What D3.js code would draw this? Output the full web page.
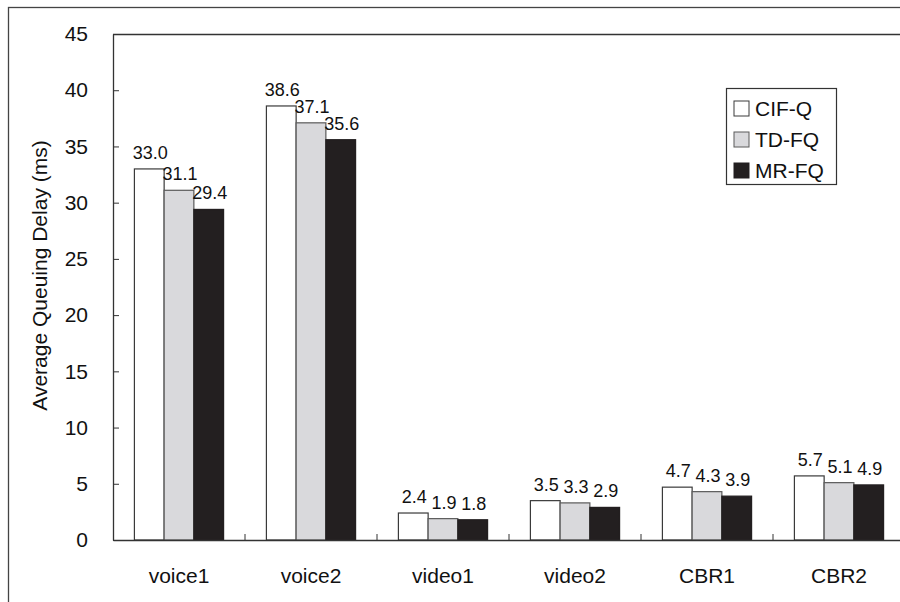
<!DOCTYPE html>
<html>
<head>
<meta charset="utf-8">
<script src="https://cdn.jsdelivr.net/npm/d3@7"></script>
<style>
  html, body { margin: 0; padding: 0; background: #fff; }
  svg { display: block; font-family: Arial, "Liberation Sans", sans-serif; }
</style>
</head>
<body>
<svg id="chart" width="900" height="602"></svg>
<script>
const categories = ["voice1", "voice2", "video1", "video2", "CBR1", "CBR2"];
const seriesNames = ["CIF-Q", "TD-FQ", "MR-FQ"];
const cifq = [33.0, 38.6, 2.4, 3.5, 4.7, 5.7];
const tdfq = [31.1, 37.1, 1.9, 3.3, 4.3, 5.1];
const mrfq = [29.4, 35.6, 1.8, 2.9, 3.9, 4.9];
const yTicks = [0, 5, 10, 15, 20, 25, 30, 35, 40, 45];
const yTitle = "Average Queuing Delay (ms)";

const seriesValues = [cifq, tdfq, mrfq];
const fills = ["#ffffff", "#d9d9dc", "#231f20"];
const strokes = ["#3a3a3a", "#5a5a5a", "#231f20"];

const svg = d3.select("#chart");
const pLeft = 113, pRight = 905, pTop = 34, pBottom = 540;

// outer frame (extends beyond the visible window on right and bottom)
svg.append("rect").attr("x", 8.5).attr("y", 7.5).attr("width", 910).attr("height", 610)
  .attr("fill", "none").attr("stroke", "#444").attr("stroke-width", 1.3);

const x0 = d3.scaleBand().domain(categories).range([pLeft, pRight]).paddingInner(0).paddingOuter(0);
const x1 = d3.scaleBand().domain(seriesNames).range([0, x0.bandwidth()]).paddingInner(0).paddingOuter(0.72);
const y = d3.scaleLinear().domain([0, 45]).range([pBottom, pTop]);

// plot area top border
svg.append("line").attr("x1", pLeft).attr("x2", 900).attr("y1", pTop + 0.5).attr("y2", pTop + 0.5)
  .attr("stroke", "#333").attr("stroke-width", 1.3);

// bars
const rows = categories.map((c, i) => ({ c, vals: seriesNames.map((s, j) => ({ s, j, v: seriesValues[j][i] })) }));
const g = svg.append("g");
const grp = g.selectAll("g.cat").data(rows).join("g").attr("transform", d => `translate(${x0(d.c)},0)`);
grp.selectAll("rect").data(d => d.vals).join("rect")
  .attr("x", d => x1(d.s))
  .attr("y", d => y(d.v))
  .attr("width", x1.bandwidth())
  .attr("height", d => y(0) - y(d.v))
  .attr("fill", d => fills[d.j])
  .attr("stroke", d => strokes[d.j])
  .attr("stroke-width", 1.2);

grp.selectAll("text").data(d => d.vals).join("text")
  .attr("x", d => x1(d.s) + x1.bandwidth() / 2 + 1)
  .attr("y", d => y(d.v) - 10)
  .attr("text-anchor", "middle")
  .attr("font-size", 18)
  .attr("fill", "#111")
  .text(d => d.v.toFixed(1));

// y axis
const yAxis = d3.axisLeft(y).tickValues(yTicks).tickSizeInner(-6).tickSizeOuter(0).tickPadding(25).tickFormat(d3.format("d"));
const ya = svg.append("g").attr("transform", `translate(${pLeft},0)`).call(yAxis);
ya.select(".domain").attr("stroke", "#333").attr("stroke-width", 1.3);
ya.selectAll(".tick line").attr("stroke", "#333");
ya.selectAll(".tick text").attr("font-size", 21).attr("fill", "#111").attr("font-family", "Arial, 'Liberation Sans', sans-serif");

// x axis
const xAxis = d3.axisBottom(x0).tickSize(0).tickPadding(28);
const xa = svg.append("g").attr("transform", `translate(0,${pBottom})`).call(xAxis);
xa.select(".domain").attr("stroke", "#333").attr("stroke-width", 1.3);
xa.selectAll(".tick text").attr("font-size", 21).attr("fill", "#111").attr("font-family", "Arial, 'Liberation Sans', sans-serif");
// category separators (inside ticks)
svg.append("g").selectAll("line").data(categories.slice(1)).join("line")
  .attr("x1", d => x0(d)).attr("x2", d => x0(d))
  .attr("y1", pBottom).attr("y2", pBottom - 6)
  .attr("stroke", "#333").attr("stroke-width", 1);

// y title
svg.append("text")
  .attr("transform", `translate(47,${(413 + 138) / 2}) rotate(-90)`)
  .attr("text-anchor", "middle")
  .attr("font-size", 21)
  .attr("fill", "#111")
  .text(yTitle);

// legend
const lg = svg.append("g");
lg.append("rect").attr("x", 726.5).attr("y", 88.5).attr("width", 110).attr("height", 96)
  .attr("fill", "#fff").attr("stroke", "#333").attr("stroke-width", 1.2);
const items = lg.selectAll("g.item").data(seriesNames).join("g")
  .attr("transform", (d, i) => `translate(734,${108.5 + i * 31})`);
items.append("rect").attr("x", 0).attr("y", -7.5).attr("width", 15).attr("height", 15)
  .attr("fill", (d, i) => fills[i]).attr("stroke", (d, i) => strokes[i]).attr("stroke-width", 1);
items.append("text").attr("x", 21).attr("y", 7.5).attr("font-size", 21).attr("fill", "#111").text(d => d);
</script>
</body>
</html>
